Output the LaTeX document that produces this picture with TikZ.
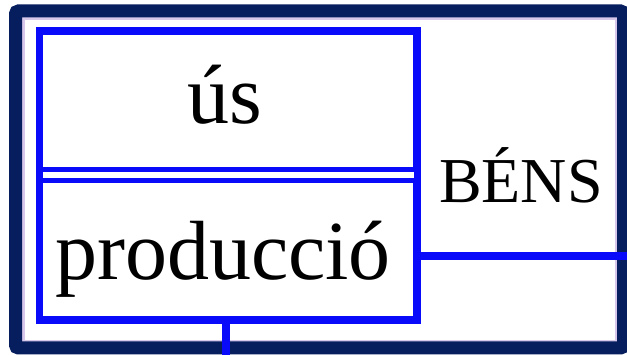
\documentclass[tikz,border=0pt]{standalone}
\usepackage{fontspec}
\setmainfont{Liberation Serif}
\definecolor{navyframe}{RGB}{6,30,94}
\definecolor{boxblue}{RGB}{10,10,250}
\definecolor{shadowlav}{RGB}{215,200,235}
\tikzset{
  boxline/.style={draw=boxblue, line width=5pt},
  conn/.style={draw=boxblue, line width=8pt},
  bigtext/.style={font=\fontsize{84}{88}\selectfont, inner sep=0pt, anchor=base},
  midtext/.style={font=\fontsize{64}{68}\selectfont, inner sep=0pt, anchor=base},
}
\begin{document}
\begin{tikzpicture}[x=1pt,y=-1pt]
\useasboundingbox (0,0) rectangle (627,355);
\fill[white] (0,0) rectangle (627,355);
% frame
\draw[shadowlav, line width=3pt] (23.5,18.5) rectangle (616,341.5);
\node[draw=navyframe, line width=13pt, rounded corners=3pt, minimum width=608pt, minimum height=337pt, inner sep=0pt] (frame) at (319.5,179.5) {};
% boxes
\node[boxline, minimum width=375pt, minimum height=137.5pt, inner sep=0pt] (usbox) at (228,101.25) {};
\node[boxline, line width=4pt, minimum width=375pt, minimum height=11pt, inner sep=0pt, draw, fill=white] (sep) at (228,175.5) {};
\node[boxline, minimum width=375pt, minimum height=138pt, inner sep=0pt] (prod) at (228,250) {};
\draw[boxline] (usbox.north west) rectangle (prod.south east);
% texts
\node[bigtext] (us) at (225,124) {ús};
\node[bigtext] (produccio) at (223,280) {producció};
\node[midtext] (bens) at (521,203) {BÉNS};
% connectors
\coordinate (rend) at (629,256);
\coordinate (bend) at (226,357);
\draw[conn] (prod.east |- rend) -- (rend);
\draw[conn] (prod.south -| bend) -- (bend);
\end{tikzpicture}
\end{document}
